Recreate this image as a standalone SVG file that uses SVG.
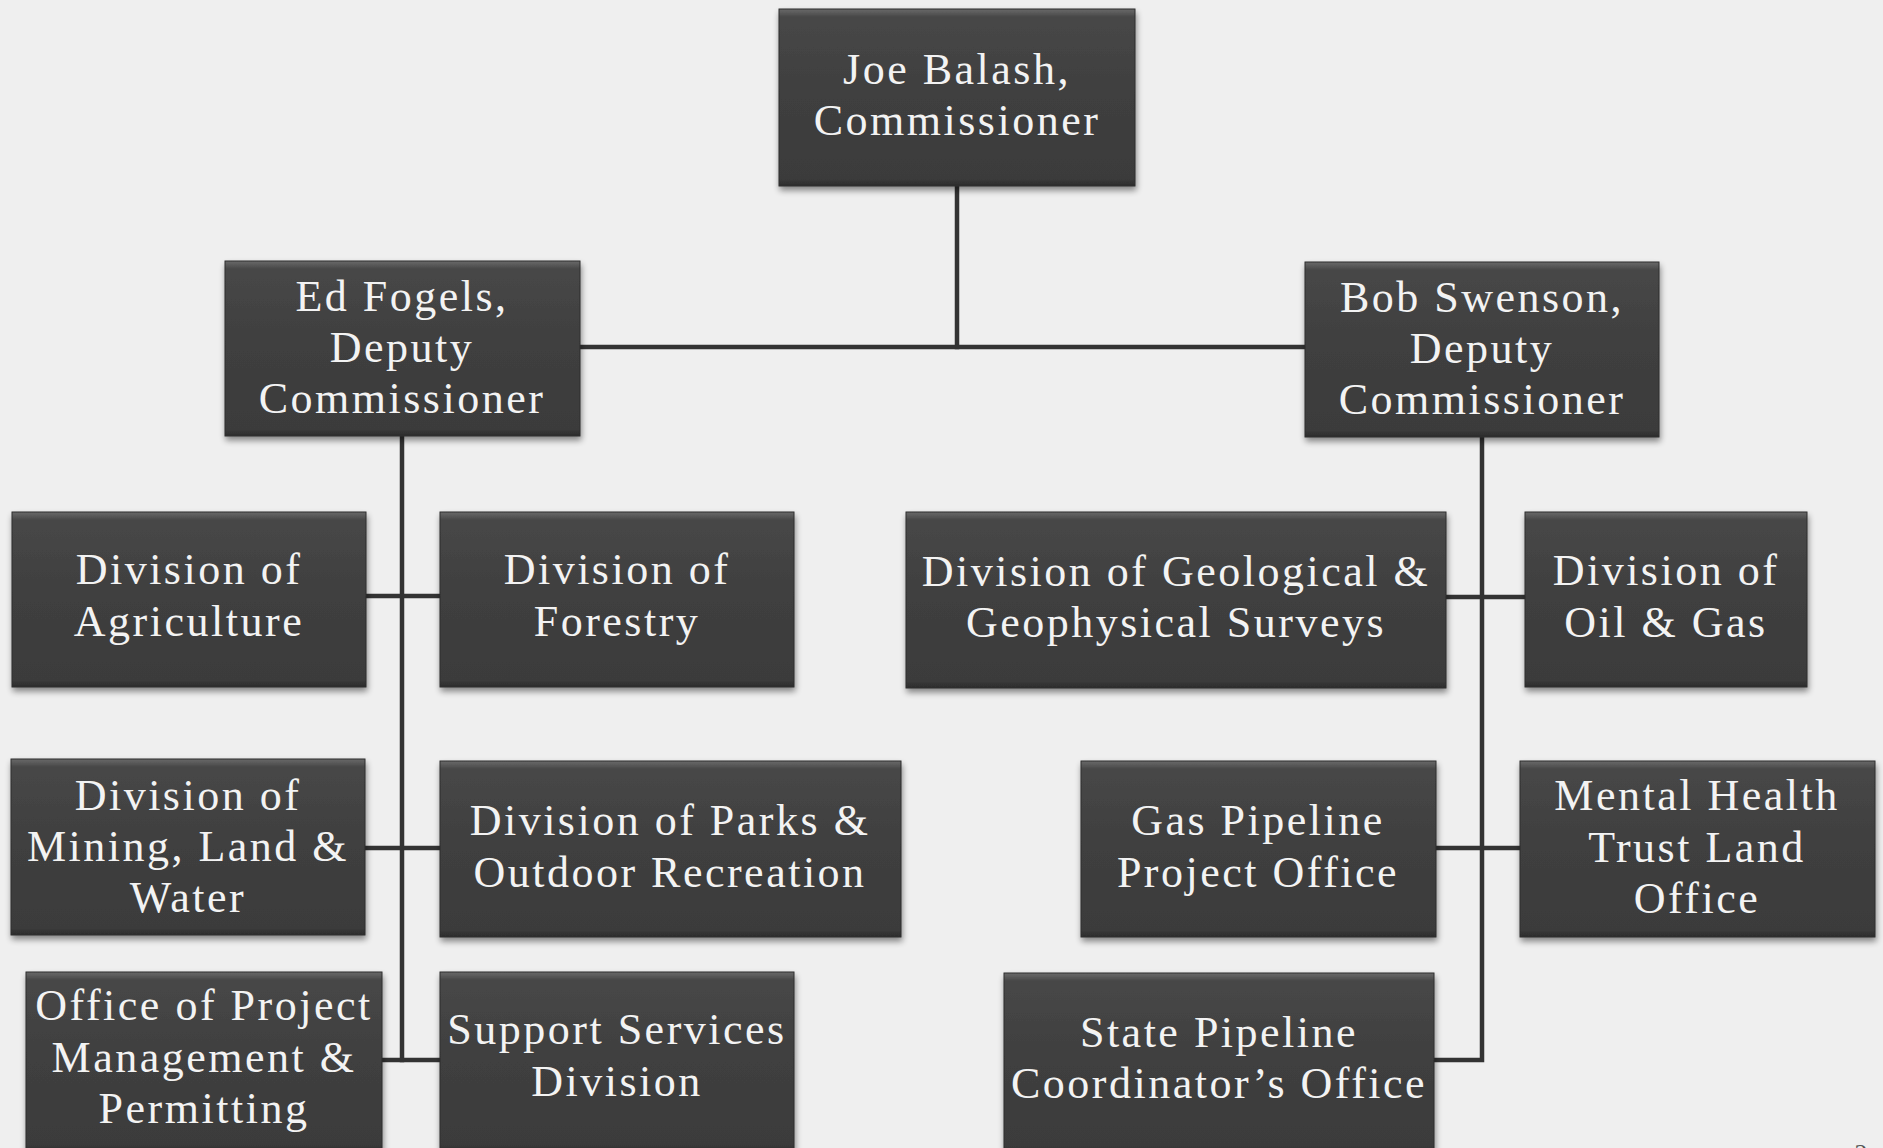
<svg xmlns="http://www.w3.org/2000/svg" width="1883" height="1148" viewBox="0 0 1883 1148">
  <style>
    .box { fill: url(#boxGrad); stroke: #2e2e2e; stroke-width: 1; filter: url(#shadow); }
    .lbl { font-family: "Liberation Serif", "DejaVu Serif", serif; font-size: 44px; letter-spacing: 2.5px; fill: #f3f3f3; text-anchor: middle; }
    .conn { fill: none; stroke: #333333; stroke-width: 4.5; stroke-linecap: square; }
    .pg { font-family: "Liberation Serif", serif; font-size: 26px; fill: #555555; text-anchor: middle; }
  </style>
  <defs>
    <linearGradient id="boxGrad" x1="0" y1="0" x2="0" y2="1">
      <stop offset="0" stop-color="#6a6a6a"/>
      <stop offset="0.045" stop-color="#474747"/>
      <stop offset="0.5" stop-color="#3f3f3f"/>
      <stop offset="0.96" stop-color="#3b3b3b"/>
      <stop offset="1" stop-color="#2c2c2c"/>
    </linearGradient>
    <filter id="shadow" x="-5%" y="-5%" width="110%" height="115%">
      <feGaussianBlur in="SourceAlpha" stdDeviation="3"/>
      <feOffset dx="1" dy="4" result="b"/>
      <feComponentTransfer><feFuncA type="linear" slope="0.45"/></feComponentTransfer>
      <feMerge><feMergeNode/><feMergeNode in="SourceGraphic"/></feMerge>
    </filter>
  </defs>
  <rect x="0" y="0" width="1883" height="1148" fill="#efefef"/>

  <g id="connectors">
    <path class="conn" d="M957 186 V347"/>
    <path class="conn" d="M580 347 H1305"/>
    <path class="conn" d="M402 436 V1060"/>
    <path class="conn" d="M366 596 H440"/>
    <path class="conn" d="M365 848 H440"/>
    <path class="conn" d="M382 1060 H440"/>
    <path class="conn" d="M1482 437 V1060 H1434"/>
    <path class="conn" d="M1446 597 H1525"/>
    <path class="conn" d="M1436 848 H1520"/>
  </g>

  <g id="n-balash">
    <rect class="box" x="779" y="9" width="356" height="177"/>
    <text class="lbl" x="957" y="84">Joe Balash,</text>
    <text class="lbl" x="957" y="135">Commissioner</text>
  </g>

  <g id="n-fogels">
    <rect class="box" x="225" y="261" width="355" height="175"/>
    <text class="lbl" x="402" y="311">Ed Fogels,</text>
    <text class="lbl" x="402" y="362">Deputy</text>
    <text class="lbl" x="402" y="413">Commissioner</text>
  </g>

  <g id="n-swenson">
    <rect class="box" x="1305" y="262" width="354" height="175"/>
    <text class="lbl" x="1482" y="312">Bob Swenson,</text>
    <text class="lbl" x="1482" y="363">Deputy</text>
    <text class="lbl" x="1482" y="414">Commissioner</text>
  </g>

  <g id="n-agriculture">
    <rect class="box" x="12" y="512" width="354" height="175"/>
    <text class="lbl" x="189" y="584">Division of</text>
    <text class="lbl" x="189" y="636">Agriculture</text>
  </g>

  <g id="n-forestry">
    <rect class="box" x="440" y="512" width="354" height="175"/>
    <text class="lbl" x="617" y="584">Division of</text>
    <text class="lbl" x="617" y="636">Forestry</text>
  </g>

  <g id="n-mining">
    <rect class="box" x="11" y="759" width="354" height="176"/>
    <text class="lbl" x="188" y="810">Division of</text>
    <text class="lbl" x="188" y="861">Mining, Land &amp;</text>
    <text class="lbl" x="188" y="912">Water</text>
  </g>

  <g id="n-parks">
    <rect class="box" x="440" y="761" width="461" height="176"/>
    <text class="lbl" x="670" y="835">Division of Parks &amp;</text>
    <text class="lbl" x="670" y="887">Outdoor Recreation</text>
  </g>

  <g id="n-permitting">
    <rect class="box" x="26" y="972" width="356" height="180"/>
    <text class="lbl" x="204" y="1020">Office of Project</text>
    <text class="lbl" x="204" y="1072">Management &amp;</text>
    <text class="lbl" x="204" y="1123">Permitting</text>
  </g>

  <g id="n-support">
    <rect class="box" x="440" y="972" width="354" height="180"/>
    <text class="lbl" x="617" y="1044">Support Services</text>
    <text class="lbl" x="617" y="1096">Division</text>
  </g>

  <g id="n-geological">
    <rect class="box" x="906" y="512" width="540" height="176"/>
    <text class="lbl" x="1176" y="586">Division of Geological &amp;</text>
    <text class="lbl" x="1176" y="637">Geophysical Surveys</text>
  </g>

  <g id="n-oilgas">
    <rect class="box" x="1525" y="512" width="282" height="175"/>
    <text class="lbl" x="1666" y="585">Division of</text>
    <text class="lbl" x="1666" y="637">Oil &amp; Gas</text>
  </g>

  <g id="n-gaspipeline">
    <rect class="box" x="1081" y="761" width="355" height="176"/>
    <text class="lbl" x="1258" y="835">Gas Pipeline</text>
    <text class="lbl" x="1258" y="887">Project Office</text>
  </g>

  <g id="n-mentalhealth">
    <rect class="box" x="1520" y="761" width="355" height="176"/>
    <text class="lbl" x="1697" y="810">Mental Health</text>
    <text class="lbl" x="1697" y="862">Trust Land</text>
    <text class="lbl" x="1697" y="913">Office</text>
  </g>

  <g id="n-statepipeline">
    <rect class="box" x="1004" y="973" width="430" height="180"/>
    <text class="lbl" x="1219" y="1047">State Pipeline</text>
    <text class="lbl" x="1219" y="1098">Coordinator’s Office</text>
  </g>

  <text class="pg" x="1861" y="1162">2</text>
</svg>
